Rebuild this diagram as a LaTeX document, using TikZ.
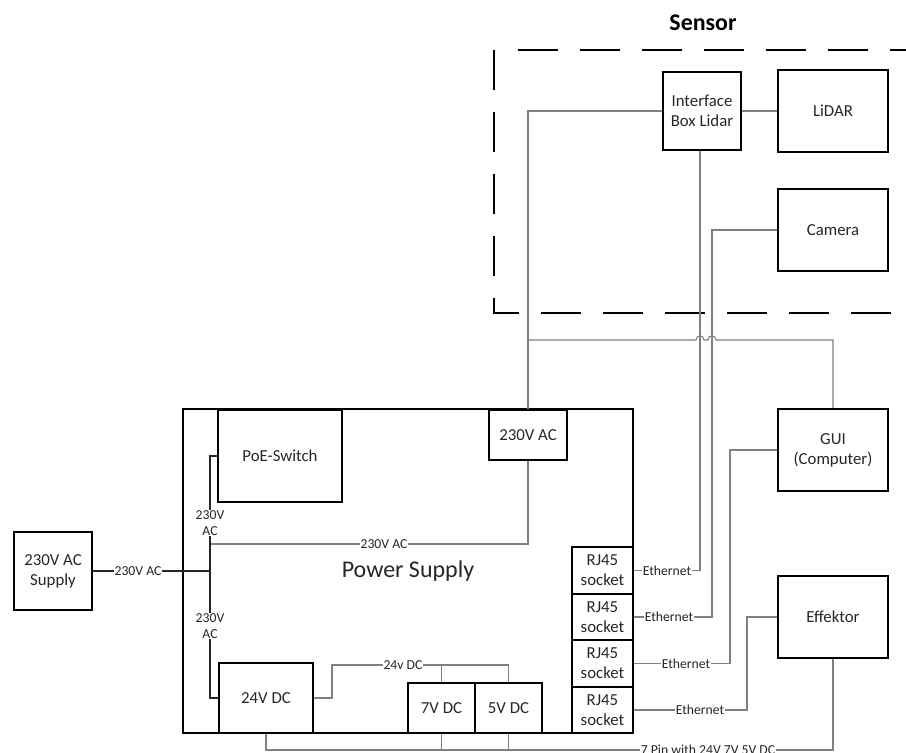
\documentclass[tikz,border=0pt]{standalone}
\usepackage{fontspec}
\setmainfont{Carlito}
\begin{document}
\begin{tikzpicture}[x=1pt,y=-1pt,
  box/.style={draw=black, line width=2.4pt, inner sep=0pt, align=center,
    font=\fontsize{16.8}{20}\selectfont, text=black!85},
  wire/.style={draw=black!50, line width=1.1pt},
  mainwire/.style={draw=black!85, line width=1.1pt},
  lbl/.style={fill=white, inner sep=0.8pt, align=center,
    font=\fontsize{13.7}{16}\selectfont, text=black!85},
  sensorframe/.style={draw=black, line width=2.4pt, dash pattern=on 40pt off 22pt}]
\useasboundingbox (0,0) rectangle (906,753);

% Sensor frame
\coordinate (sf0) at (518,50);
\coordinate (sf1) at (906,50);
\coordinate (sf2) at (494,50);
\coordinate (sf3) at (494,313);
\coordinate (sf4) at (906,313);
\draw[sensorframe] (sf2) -- (sf3) -- (sf4);
\draw[sensorframe] (sf0) -- (sf1);
\node[font=\bfseries\fontsize{23.9}{28}\selectfont] (sensortitle) at (703,23) {Sensor};

% Boxes
\node[box, minimum width=78pt, minimum height=78pt] (iface) at (702,111) {Interface\\Box Lidar};
\node[box, minimum width=110pt, minimum height=82pt] (lidar) at (833,111) {LiDAR};
\node[box, minimum width=110pt, minimum height=82pt] (camera) at (833,230) {Camera};
\node[box, minimum width=110pt, minimum height=82pt] (gui) at (833,450) {GUI\\(Computer)};
\node[box, minimum width=110pt, minimum height=82pt] (effektor) at (833,617) {Effektor};
\node[box, minimum width=78pt, minimum height=78pt] (supply) at (53,571) {230V AC\\Supply};

\node[box, minimum width=450pt, minimum height=324pt, font=\fontsize{24}{28}\selectfont] (psu) at (408,571) {Power Supply};
\node[box, minimum width=124pt, minimum height=92pt] (poe) at (280,456) {PoE-Switch};
\node[box, minimum width=78pt, minimum height=50pt] (ac230) at (528,435) {230V AC};
\node[box, minimum width=94pt, minimum height=70pt] (dc24) at (266,698) {24V DC};
\node[box, minimum width=67pt, minimum height=50pt] (dc7) at (441.5,708) {7V DC};
\node[box, minimum width=67pt, minimum height=50pt] (dc5) at (508.5,708) {5V DC};
\node[box, minimum width=61pt, minimum height=46.5pt] (rj1) at (602.5,570.5) {RJ45\\socket};
\node[box, minimum width=61pt, minimum height=46.5pt] (rj2) at (602.5,617) {RJ45\\socket};
\node[box, minimum width=61pt, minimum height=46.5pt] (rj3) at (602.5,663.5) {RJ45\\socket};
\node[box, minimum width=61pt, minimum height=46.5pt] (rj4) at (602.5,710) {RJ45\\socket};

% helper coordinates
\coordinate (k1) at (700,0);
\coordinate (k2) at (712,0);
\coordinate (k3) at (730,0);
\coordinate (k4) at (747,0);
\coordinate (bus) at (528,340);
\coordinate (j1) at (210,544);
\coordinate (j0) at (210,571);
\coordinate (dcbus) at (332,665);
\coordinate (pinbus) at (0,750);

% Sensor wiring
\draw[wire] (iface.west) -| (ac230.north);
\draw[wire] (iface.east) -- (lidar.west);
\draw[wire] (rj1.east) -| (k1 |- iface.south);
\draw[wire] (camera.west) -| (rj2.east -| k2) -- (rj2.east);
\draw[wire] (gui.north) -- (gui.north |- bus) -- (716,340)
  .. controls (716,334.5) and (708,334.5) .. (708,340) -- (704,340)
  .. controls (704,334.5) and (696,334.5) .. (696,340) -- (bus);
\draw[wire] (gui.west) -| (rj3.east -| k3) -- (rj3.east);
\draw[wire] (effektor.west) -| (rj4.east -| k4) -- (rj4.east);
\draw[wire] (effektor.south) |- (dc24.south |- pinbus) -- (dc24.south);
\draw[wire] (dc7.south) -- (dc7.south |- pinbus);
\draw[wire] (dc5.south) -- (dc5.south |- pinbus);

% Power wiring
\draw[wire] (ac230.south) |- (j1);
\draw[mainwire] (supply.east) -- (j0);
\draw[mainwire] (poe.west) -- (poe.west -| j0) -- (dc24.west -| j0) -- (dc24.west);
\draw[wire] (dc24.east) -| (dcbus) -| (dc5.north);
\draw[wire] (dc7.north) -- (dc7.north |- dcbus);

% Labels
\node[lbl] (l1) at (138,571) {230V AC};
\node[lbl] (l2) at (210,523) {230V\\AC};
\node[lbl] (l3) at (210,626) {230V\\AC};
\node[lbl] (l4) at (384,544) {230V AC};
\node[lbl] (l5) at (403,665) {24v DC};
\node[lbl] (e1) at (667,571) {Ethernet};
\node[lbl] (e2) at (669,617) {Ethernet};
\node[lbl] (e3) at (686,664) {Ethernet};
\node[lbl] (e4) at (700,710) {Ethernet};
\node[lbl] (l6) at (708,750) {7 Pin with 24V 7V 5V DC};
\end{tikzpicture}
\end{document}
